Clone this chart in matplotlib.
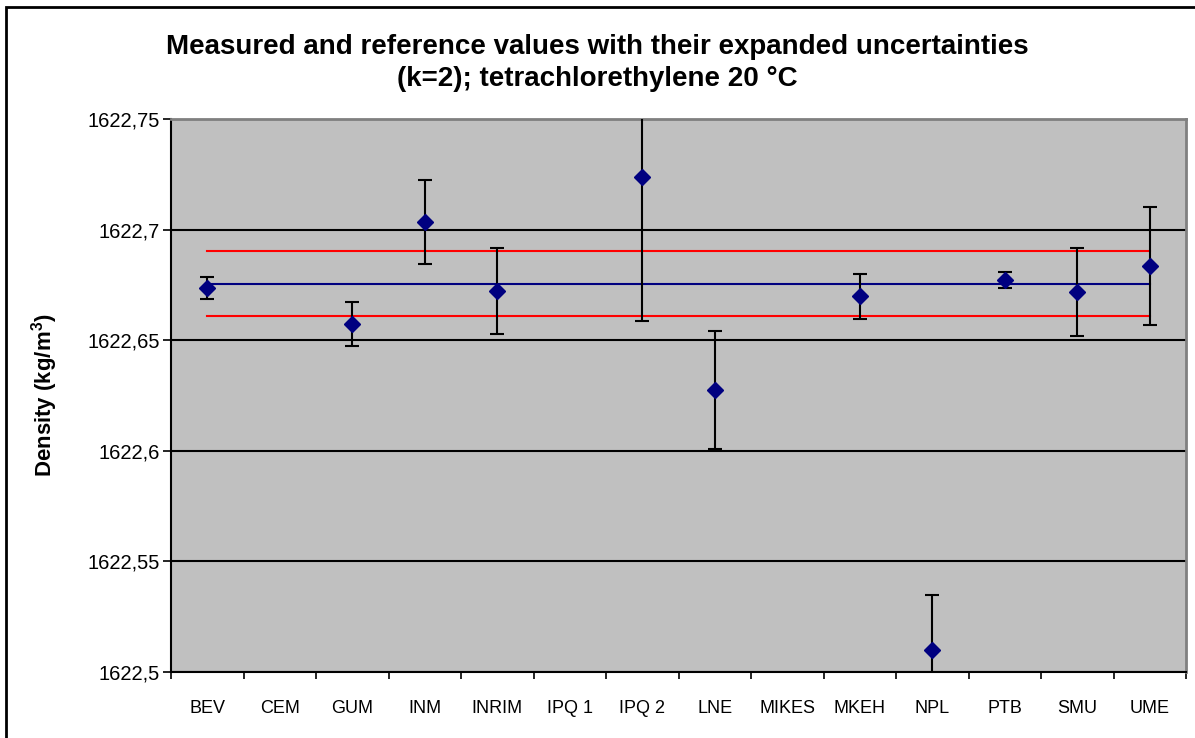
import numpy as np
import matplotlib.pyplot as plt
from matplotlib.patches import Rectangle

plt.rcParams['font.family'] = ['Liberation Sans', 'DejaVu Sans']

labs = ['BEV', 'CEM', 'GUM', 'INM', 'INRIM', 'IPQ 1', 'IPQ 2', 'LNE', 'MIKES', 'MKEH', 'NPL', 'PTB', 'SMU', 'UME']
# None = lab without a result for this liquid
dens = [1622.6737, None, 1622.6575, 1622.7036, 1622.6721, None, 1622.7236, 1622.6276, None, 1622.6698, 1622.5101, 1622.6771, 1622.6718, 1622.6835]
unc = [0.0050, None, 0.0099, 0.0190, 0.0194, None, 0.0651, 0.0267, None, 0.0100, 0.0245, 0.0037, 0.0200, 0.0265]

ref_val = 1622.6756
ref_unc = 0.0145

yticks = [1622.5, 1622.55, 1622.6, 1622.65, 1622.7, 1622.75]
ytick_labels = ['1622,5', '1622,55', '1622,6', '1622,65', '1622,7', '1622,75']

fig = plt.figure(figsize=(11.95, 7.38), dpi=100)
ax = fig.add_axes([171/1195, 66/738, 1015/1195, 553/738])
ax.set_facecolor('#c0c0c0')

x = np.arange(len(labs))
idx = [i for i in range(len(labs)) if dens[i] is not None]
xv = x[idx]
yv = np.array([dens[i] for i in idx])
ev = np.array([unc[i] for i in idx])

# reference value and its uncertainty band
ax.plot([x[0], x[-1]], [ref_val, ref_val], color='#000080', lw=1.5, zorder=3)
ax.plot([x[0], x[-1]], [ref_val + ref_unc, ref_val + ref_unc], color='#ff0000', lw=1.5, zorder=3)
ax.plot([x[0], x[-1]], [ref_val - ref_unc, ref_val - ref_unc], color='#ff0000', lw=1.5, zorder=3)

ax.errorbar(xv, yv, yerr=ev, fmt='D', color='#000080', ms=8.5, ecolor='black',
            elinewidth=1.5, capsize=5, capthick=1.5, zorder=4)

ax.set_xlim(-0.5, len(labs) - 0.5)
ax.set_ylim(1622.5, 1622.75)

ax.set_yticks(yticks)
ax.set_yticklabels(ytick_labels, fontsize=14.5)
ax.yaxis.grid(True, color='black', lw=1.5)
ax.set_axisbelow(True)

# tick marks between categories, labels centred on them
ax.set_xticks(np.arange(-0.5, len(labs), 1.0))
ax.set_xticklabels([])
ax.set_xticks(x, minor=True)
ax.set_xticklabels(labs, minor=True, fontsize=13)
ax.tick_params(axis='x', which='minor', length=0, pad=20)
ax.tick_params(axis='x', which='major', length=5, width=1.2, direction='out')
ax.tick_params(axis='y', length=6, width=1.2, direction='out', pad=2)

for s in ['left', 'bottom']:
    ax.spines[s].set_color('black')
    ax.spines[s].set_linewidth(1.5)
for s in ['top', 'right']:
    ax.spines[s].set_color('#808080')
    ax.spines[s].set_linewidth(2)

ax.set_ylabel('Density (kg/m$^\\mathregular{3}$)', fontsize=16, fontweight='bold', labelpad=20)

fig.text(0.5, 0.915, 'Measured and reference values with their expanded uncertainties\n(k=2); tetrachlorethylene 20 °C',
         ha='center', va='center', fontsize=20, fontweight='bold', linespacing=1.3)

fig.patches.append(Rectangle((6/1195, -0.1), 1.2, (738 - 7)/738 + 0.1, transform=fig.transFigure,
                             fill=False, edgecolor='black', lw=2))

fig.savefig('out.png', dpi=100)
